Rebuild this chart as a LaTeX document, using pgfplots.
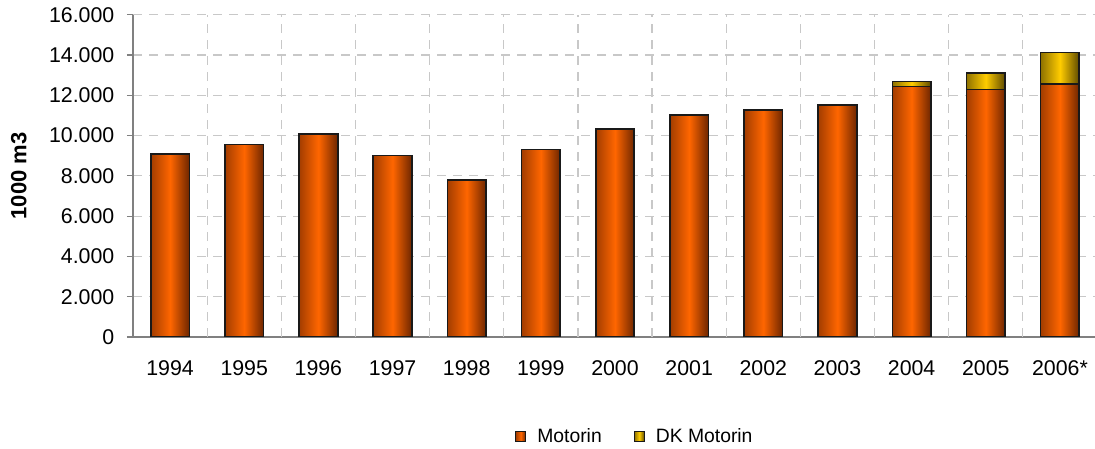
\documentclass[border=0pt]{standalone}
\usepackage{fontspec}
\setmainfont{Liberation Sans}
\usepackage{pgfplots}
\usepackage{pgfplotstable}
\pgfplotsset{compat=1.18}

\definecolor{orMid}{HTML}{FF6600}
\definecolor{orL}{HTML}{A33D00}
\definecolor{orR}{HTML}{6E2600}
\definecolor{yeMid}{HTML}{FFCC00}
\definecolor{yeL}{HTML}{8F7200}
\definecolor{yeR}{HTML}{5E4A00}
\definecolor{gridc}{HTML}{C8C8C8}
\definecolor{axc}{HTML}{808080}

% Motorin and DK Motorin, 1000 m3
\pgfplotstableread{
x motorin dk
0 9070 0
1 9560 0
2 10085 0
3 9005 0
4 7800 0
5 9305 0
6 10330 0
7 11025 0
8 11260 0
9 11525 0
10 12430 260
11 12280 820
12 12560 1570
}\fuel

\tikzset{
  orbar/.style={draw=black!90, line width=1.25pt, left color=orL, right color=orR, middle color=orMid},
  yebar/.style={draw=black!90, line width=1.25pt, left color=yeL, right color=yeR, middle color=yeMid},
}

\begin{document}
\begin{tikzpicture}
\useasboundingbox (-99.75pt,-83.8pt) rectangle (721.5pt,252.75pt);
\begin{axis}[
  at={(0,0)}, anchor=south west,
  scale only axis, width=723pt, height=241.7pt,
  font=\fontsize{16}{19}\selectfont,
  /pgf/number format/assume math mode=true,
  scaled y ticks=false,
  yticklabel style={/pgf/number format/fixed, /pgf/number format/1000 sep={.}, xshift=-6pt},
  ybar, bar width=0.52, bar shift=0pt,
  xmin=-0.5, xmax=12.5, ymin=0, ymax=16000,
  ytick={0,2000,...,16000},
  xtick={0,...,12},
  xticklabels={1994,1995,1996,1997,1998,1999,2000,2001,2002,2003,2004,2005,2006*},
  x tick style={draw=none},
  extra x ticks={0.5,1.5,...,11.5},
  extra x tick labels={},
  extra x tick style={grid=major, tick style={draw=axc}, major tick length=5pt},
  axis x line*=bottom, axis y line*=left,
  axis line style={draw=axc, line width=0.8pt},
  tick align=outside, major tick length=4.5pt,
  y tick style={draw=axc, line width=0.8pt},
  ymajorgrids,
  major grid style={draw=gridc, line width=0.9pt, dash pattern=on 7pt off 5pt},
  xticklabel style={yshift=-10pt},
  ylabel={\fontsize{16.5}{19}\selectfont\bfseries 1000 m3},
  ylabel shift=10pt,
  legend columns=2,
  legend style={draw=none, fill=none, at={(0.521,-0.31)}, anchor=center,
    font=\fontsize{14.5}{17}\selectfont,
    /tikz/every even column/.append style={column sep=22pt}},
  legend image code/.code={\draw[#1, line width=0.8pt] (0pt,-3.5pt) rectangle (7.5pt,4pt); \path (13.5pt,0pt);},
]
% totals (yellow) first, Motorin drawn over them; one bar per plot so each bar gets its own shading
\pgfplotsinvokeforeach{10,11,12}{
  \addplot[yebar, forget plot, restrict x to domain=#1:#1]
    table[x=x, y expr=\thisrow{motorin}+\thisrow{dk}] {\fuel};
}
\pgfplotsinvokeforeach{0,...,12}{
  \addplot[orbar, forget plot, restrict x to domain=#1:#1]
    table[x=x, y=motorin] {\fuel};
}
\addlegendimage{orbar}
\addlegendimage{yebar}
\legend{Motorin, DK Motorin}
\end{axis}
\end{tikzpicture}
\end{document}
